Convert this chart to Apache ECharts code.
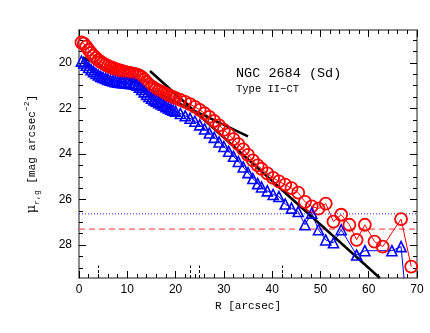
<!DOCTYPE html>
<html>
<head>
<meta charset="utf-8">
<script src="https://cdn.jsdelivr.net/npm/echarts@6/dist/echarts.min.js"></script>
<style>
  html, body { margin: 0; padding: 0; background: #fff; }
  #chart { width: 430px; height: 333px; }
</style>
</head>
<body>
<div id="chart"></div>
<script>
// radii of the profile points [arcsec]
const redR = [0.5, 1, 1.5, 2, 2.5, 3, 3.5, 4, 4.5, 5, 5.5, 6, 6.5, 7, 7.5, 8, 8.5, 9, 9.5, 10,
  10.5, 11, 11.5, 12, 12.5, 13, 13.5, 14, 14.5, 15, 15.5, 16, 16.5, 17, 17.5, 18, 18.5, 19, 19.5, 20,
  21, 22, 23, 24, 25, 26, 27, 28, 29, 30, 31, 32, 33, 34, 35, 36, 37,
  37.8, 39.0, 40.2, 41.4, 42.7, 44.0, 45.4, 46.8, 48.2, 49.6, 51.1, 52.7, 54.3, 56.0, 57.5, 59.2, 61.2, 62.9, 66.7, 68.8]
// r-band surface brightness
const redMag = [19.10, 19.15, 19.28, 19.42, 19.56, 19.68, 19.78, 19.87, 19.95, 20.02, 20.08, 20.13, 20.18, 20.22, 20.26, 20.30, 20.33, 20.36, 20.39, 20.42,
  20.44, 20.46, 20.48, 20.51, 20.55, 20.62, 20.72, 20.84, 20.95, 21.03, 21.10, 21.16, 21.21, 21.26, 21.31, 21.36, 21.41, 21.46, 21.50, 21.54,
  21.62, 21.71, 21.81, 21.93, 22.06, 22.21, 22.37, 22.55, 22.74, 22.94, 23.14, 23.35, 23.57, 23.80, 24.04, 24.28, 24.50,
  24.65, 24.85, 25.05, 25.20, 25.35, 25.50, 25.70, 26.10, 26.30, 26.40, 26.18, 26.97, 26.67, 27.11, 27.77, 27.11, 27.85, 28.07, 26.86, 28.95]

const blueR = [0.5, 1, 1.5, 2, 2.5, 3, 3.5, 4, 4.5, 5, 5.5, 6, 6.5, 7, 7.5, 8, 8.5, 9, 9.5, 10,
  10.5, 11, 11.5, 12, 12.5, 13, 13.5, 14, 14.5, 15, 15.5, 16, 16.5, 17, 17.5, 18, 18.5, 19, 19.5, 20,
  21, 22, 23, 24, 25, 26, 27, 28, 29, 30, 31, 32, 33, 34, 35, 36, 37,
  37.8, 39.0, 40.2, 41.4, 42.7, 44.0, 45.4, 46.8, 48.2, 49.6, 51.1, 52.7, 54.3, 57.5, 59.2, 64.8, 66.7, 68.0]
// g-band surface brightness
const blueMag = [19.92, 20.00, 20.10, 20.20, 20.29, 20.38, 20.46, 20.53, 20.59, 20.64, 20.68, 20.72, 20.76, 20.79, 20.82, 20.84, 20.86, 20.87, 20.88, 20.89,
  20.90, 20.91, 20.93, 20.98, 21.06, 21.16, 21.27, 21.38, 21.47, 21.55, 21.62, 21.68, 21.74, 21.80, 21.86, 21.92, 21.98, 22.03, 22.08, 22.12,
  22.22, 22.32, 22.43, 22.56, 22.72, 22.90, 23.08, 23.27, 23.47, 23.67, 23.88, 24.10, 24.33, 24.57, 24.82, 25.08, 25.30,
  25.45, 25.62, 25.78, 25.87, 26.20, 26.38, 26.53, 27.11, 26.60, 27.33, 27.78, 27.90, 27.33, 28.44, 28.25, 28.25, 28.07, 31.0]

// exponential fits: inner and outer disc (end points)
const innerFitR = [0.8, 35.0]
const innerFitMag = [19.75, 23.22]
const outerFitR = [14.7, 62.3]
const outerFitMag = [20.35, 29.45]

// limiting surface brightness (g, r) and marked radii
const limitG = 26.63
const limitR = 27.3
const markR = [4, 23, 25, 42]

const yMajor = [20, 22, 24, 26, 28]
const yMinor = [19, 19.5, 20.5, 21, 21.5, 22.5, 23, 23.5, 24.5, 25, 25.5, 26.5, 27, 27.5, 28.5, 29]

const pairs = (xs, ys) => xs.map((x, i) => [x, ys[i]])

let chart = echarts.init(document.getElementById('chart'), null, { renderer: 'canvas' })

const tickFont = { fontFamily: 'Liberation Sans', fontSize: 12, color: '#000' }
const frame = { lineStyle: { color: '#666', width: 1.5 } }
const major = { inside: true, length: 7, lineStyle: { color: '#000', width: 1 } }
const minor = { inside: true, length: 4, lineStyle: { color: '#000', width: 1 } }
const yBase = { type: 'value', min: 18.55, max: 29.45, inverse: true, splitLine: { show: false } }

let option = {
  animation: false,
  grid: { left: 79, right: 13, top: 30, bottom: 55 },
  xAxis: [
    {
      type: 'value', position: 'bottom', min: 0, max: 70, interval: 10,
      name: 'R [arcsec]', nameLocation: 'middle', nameGap: 21,
      nameTextStyle: { fontFamily: 'Liberation Mono', fontSize: 11, color: '#000' },
      axisLine: frame,
      axisTick: major,
      minorTick: Object.assign({ show: true, splitNumber: 5 }, minor),
      axisLabel: Object.assign({ margin: 6 }, tickFont),
      splitLine: { show: false }
    },
    {
      type: 'value', position: 'top', min: 0, max: 70, interval: 10,
      axisLine: frame,
      axisTick: major,
      minorTick: Object.assign({ show: true, splitNumber: 5 }, minor),
      axisLabel: { show: false },
      splitLine: { show: false }
    }
  ],
  yAxis: [
    Object.assign({}, yBase, {
      position: 'left',
      name: '{mu|μ}{sub|r,g}  {t|[mag arcsec}{sup|−2}{t|]}',
      nameLocation: 'middle', nameRotate: 90, nameGap: 38,
      nameTextStyle: {
        rich: {
          mu: { fontFamily: 'DejaVu Serif', fontSize: 13, lineHeight: 18, color: '#000' },
          sub: { fontFamily: 'Liberation Mono', fontSize: 8, lineHeight: 18, verticalAlign: 'bottom', color: '#000' },
          t: { fontFamily: 'Liberation Mono', fontSize: 11, lineHeight: 18, color: '#000' },
          sup: { fontFamily: 'Liberation Mono', fontSize: 8, lineHeight: 18, verticalAlign: 'top', color: '#000' }
        }
      },
      axisLine: frame,
      axisTick: Object.assign({ customValues: yMajor }, major),
      axisLabel: Object.assign({ margin: 7, customValues: yMajor }, tickFont)
    }),
    Object.assign({}, yBase, {
      position: 'left',
      axisLine: { show: false },
      axisTick: Object.assign({ customValues: yMinor }, minor),
      axisLabel: { show: false }
    }),
    Object.assign({}, yBase, {
      position: 'right',
      axisLine: frame,
      axisTick: Object.assign({ customValues: yMajor }, major),
      axisLabel: { show: false }
    }),
    Object.assign({}, yBase, {
      position: 'right',
      axisLine: { show: false },
      axisTick: Object.assign({ customValues: yMinor }, minor),
      axisLabel: { show: false }
    })
  ],
  graphic: [
    { type: 'text', left: 236, top: 66, style: { text: 'NGC 2684 (Sd)', font: '13.5px "Liberation Mono"', fill: '#000' } },
    { type: 'text', left: 236, top: 84, style: { text: 'Type II−CT', font: '10.5px "Liberation Mono"', fill: '#000' } }
  ],
  series: [
    {
      type: 'line', data: [[0, limitG], [70, limitG]], symbol: 'none', silent: true,
      lineStyle: { color: '#2020ff', type: [1, 2], width: 1 }
    },
    {
      type: 'line', data: [[0, limitR], [70, limitR]], symbol: 'none', silent: true,
      lineStyle: { color: '#ff3030', type: [6, 4], width: 1 }
    },
    {
      type: 'line', data: pairs(redR, redMag), clip: true,
      symbol: 'circle', symbolSize: 12,
      itemStyle: { color: 'rgba(0,0,0,0)', borderColor: '#ff0000', borderWidth: 1.8 },
      lineStyle: { color: '#ff0000', width: 1 }
    },
    {
      type: 'line', data: pairs(blueR, blueMag), clip: true,
      symbol: 'triangle', symbolSize: 10,
      itemStyle: { color: 'rgba(0,0,0,0)', borderColor: '#0000ff', borderWidth: 1.6 },
      lineStyle: { color: '#0000ff', width: 1 }
    },
    {
      type: 'line', data: pairs(innerFitR, innerFitMag), clip: true,
      symbol: 'none', lineStyle: { color: '#000', width: 2.5 }
    },
    {
      type: 'line', data: pairs(outerFitR, outerFitMag), clip: true,
      symbol: 'none', lineStyle: { color: '#000', width: 2.5 }
    },
    {
      type: 'line', data: [], symbol: 'none',
      markLine: {
        silent: true, symbol: 'none', label: { show: false },
        lineStyle: { color: '#000', type: [3, 2], width: 1 },
        data: markR.map(r => [{ coord: [r, 29.45] }, { coord: [r, 28.9] }])
      }
    }
  ]
}
chart.setOption(option)
</script>
</body>
</html>
